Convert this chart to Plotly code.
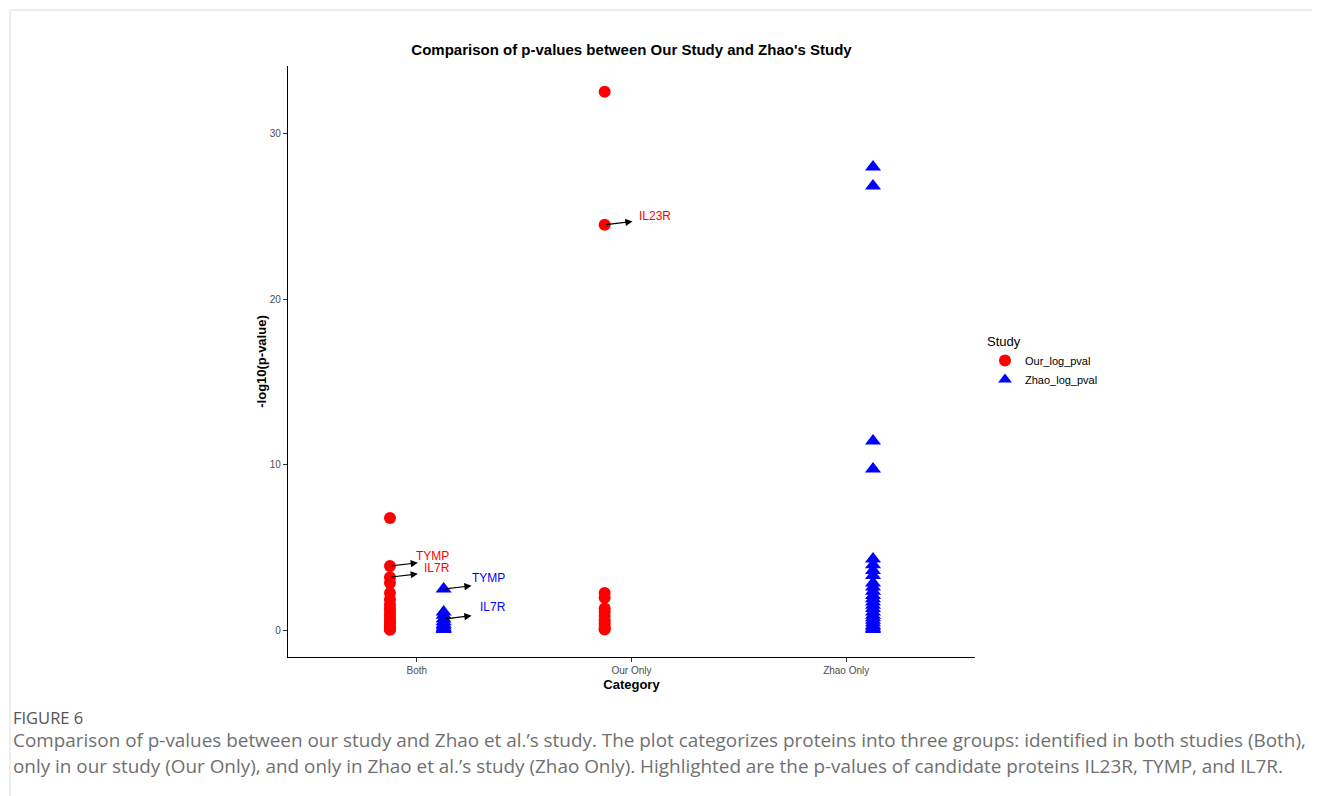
import plotly.graph_objects as go

# ---- data ----
categories = ["Both", "Our Only", "Zhao Only"]
study_names = ["Our_log_pval", "Zhao_log_pval"]

our_both = [6.78, 3.87, 3.2, 2.85, 2.25, 1.85, 1.55, 1.3, 1.1, 0.9, 0.7, 0.55, 0.4, 0.3, 0.2, 0.12, 0.05, 0.02]
zhao_both = [2.48, 1.1, 0.9, 0.67, 0.5, 0.35, 0.25, 0.15, 0.08, 0.03]
our_only = [32.55, 24.5, 2.24, 1.95, 1.3, 1.1, 0.85, 0.6, 0.4, 0.25, 0.1, 0.03]
zhao_only = [28.0, 26.85, 11.43, 9.74, 4.3, 3.95, 3.6, 3.3, 2.85, 2.6, 2.35, 2.1, 1.9,
             1.7, 1.5, 1.3, 1.1, 0.9, 0.75, 0.6, 0.45, 0.3, 0.2, 0.1, 0.03]

# highlighted proteins: (label, category, study, value)
highlights = [
    ("IL23R", "Our Only", "Our_log_pval", 24.5),
    ("TYMP", "Both", "Our_log_pval", 3.87),
    ("IL7R", "Both", "Our_log_pval", 3.2),
    ("TYMP", "Both", "Zhao_log_pval", 2.48),
    ("IL7R", "Both", "Zhao_log_pval", 0.67),
]

caption_label = "FIGURE 6"
caption_lines = [
    "Comparison of p-values between our study and Zhao et al.\u2019s study. The plot categorizes proteins into three groups: identified in both studies (Both),",
    "only in our study (Our Only), and only in Zhao et al.\u2019s study (Zhao Only). Highlighted are the p-values of candidate proteins IL23R, TYMP, and IL7R.",
]

colors = {"Our_log_pval": "#ff0000", "Zhao_log_pval": "#0000ff"}
symbols = {"Our_log_pval": "circle", "Zhao_log_pval": "triangle-up"}
dodge = {"Our_log_pval": -0.125, "Zhao_log_pval": 0.125}
cat_pos = {c: i + 1 for i, c in enumerate(categories)}

series = {
    "Our_log_pval": [("Both", our_both), ("Our Only", our_only)],
    "Zhao_log_pval": [("Both", zhao_both), ("Zhao Only", zhao_only)],
}

# page has an 8px body margin: work in page pixels, then subtract it
OFF = 8
W, H = 1320 - OFF, 796 - OFF
L, R, T, B = 288 - OFF, 975 - OFF, 66 - OFF, 657 - OFF


def px2paper_x(px):
    return (px - OFF - L) / (R - L)


def px2paper_y(py):
    return (B - (py - OFF)) / (B - T)


fig = go.Figure()
for st in study_names:
    xs, ys = [], []
    for cat, vals in series[st]:
        xs += [cat_pos[cat] + dodge[st]] * len(vals)
        ys += vals
    fig.add_trace(go.Scatter(
        x=xs, y=ys, mode="markers", name=st,
        marker=dict(color=colors[st], symbol=symbols[st],
                    size=12 if st == "Our_log_pval" else 14, line=dict(width=0)),
    ))

# label arrows and texts
text_off = {  # (dx data, dy px) offsets of label text
    ("IL23R", "Our_log_pval"): (0.235, 9),
    ("TYMP", "Our_log_pval"): (0.2, 10),
    ("IL7R", "Our_log_pval"): (0.218, 9),
    ("TYMP", "Zhao_log_pval"): (0.21, 11),
    ("IL7R", "Zhao_log_pval"): (0.228, 12),
}
for lab, cat, st, v in highlights:
    px = cat_pos[cat] + dodge[st]
    fig.add_annotation(x=px + 0.13, y=v + 0.2, ax=px, ay=v, xref="x", yref="y",
                       axref="x", ayref="y", text="", showarrow=True,
                       arrowhead=2, arrowsize=1.2, arrowwidth=1.2, arrowcolor="black")
    dx, dy = text_off[(lab, st)]
    fig.add_annotation(x=px + dx, y=v, xref="x", yref="y", yshift=dy, text=lab,
                       showarrow=False, font=dict(color=colors[st], size=12,
                                                  family="Liberation Sans, Arial"))

# caption
fig.add_annotation(x=px2paper_x(11), y=px2paper_y(717), xref="paper", yref="paper",
                   text=caption_label, showarrow=False, xanchor="left", yanchor="middle",
                   font=dict(size=16.5, color="#555555", family="Open Sans"))
for i, line in enumerate(caption_lines):
    fig.add_annotation(x=px2paper_x(11), y=px2paper_y(740 + 26 * i), xref="paper", yref="paper",
                       text=line, showarrow=False, xanchor="left", yanchor="middle",
                       font=dict(size=18.9, color="#707070", family="Open Sans"))

fig.update_layout(
    width=W, height=H,
    margin=dict(l=L, r=W - R, t=T, b=H - B, autoexpand=False),
    plot_bgcolor="white", paper_bgcolor="white",
    font=dict(family="Liberation Sans, Arial", color="#000000"),
    title=dict(text="<b>Comparison of p-values between Our Study and Zhao's Study</b>",
               x=(L + R) / 2 / W, xanchor="center", y=1 - (50 - OFF) / H, yanchor="middle",
               font=dict(size=15, color="black")),
    legend=dict(title=dict(text="Study", font=dict(size=13)),
                x=px2paper_x(985), y=px2paper_y(329),
                xanchor="left", yanchor="top", font=dict(size=11), bgcolor="rgba(0,0,0,0)",
                itemsizing="constant", tracegroupgap=0),
    shapes=[
        dict(type="line", xref="paper", yref="paper", x0=px2paper_x(10), x1=px2paper_x(1320),
             y0=px2paper_y(10), y1=px2paper_y(10), line=dict(color="#dddddd", width=1)),
        dict(type="line", xref="paper", yref="paper", x0=px2paper_x(10), x1=px2paper_x(10),
             y0=px2paper_y(10), y1=px2paper_y(800), line=dict(color="#dddddd", width=1)),
    ],
)
fig.update_xaxes(range=[0.4, 3.6], tickmode="array", tickvals=[1, 2, 3], ticktext=categories,
                 showgrid=False, zeroline=False, showline=True, linecolor="black", linewidth=1.2,
                 ticks="outside", ticklen=4, tickcolor="#333333", tickfont=dict(size=10, color="#4d4d4d"),
                 title=dict(text="<b>Category</b>", font=dict(size=13), standoff=4))
fig.update_yaxes(range=[-1.625, 34.1], tickmode="array", tickvals=[0, 10, 20, 30],
                 showgrid=False, zeroline=False, showline=True, linecolor="black", linewidth=1.2,
                 ticks="outside", ticklen=4, tickcolor="#333333", tickfont=dict(size=10, color="#4d4d4d"),
                 title=dict(text="<b>-log10(p-value)</b>", font=dict(size=13), standoff=0))

fig.write_html("out.html")
